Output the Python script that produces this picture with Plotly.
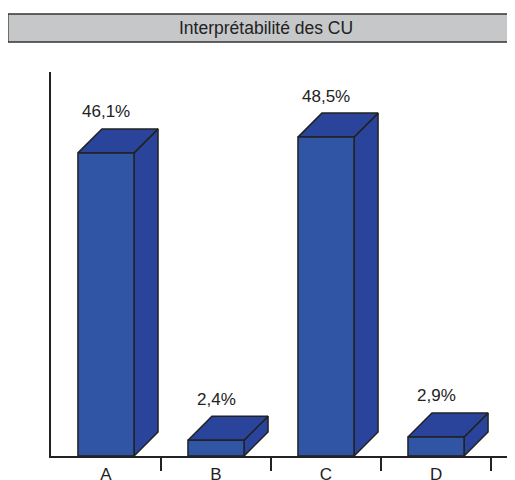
import plotly.graph_objects as go

categories = ["A", "B", "C", "D"]
values = [46.1, 2.4, 48.5, 2.9]
labels = ["46,1%", "2,4%", "48,5%", "2,9%"]
title_text = "Interprétabilité des CU"

FRONT = "#2F55A4"
TOP = "#2B449B"
SIDE = "#2B449B"
EDGE = "#222222"
FONT = "Liberation Sans, Arial, sans-serif"

half_w = 0.255   # half width of the front face (category units)
dx = 0.218       # depth offset, x
dy = 3.65        # depth offset, y (percent units)

fig = go.Figure()

for i, (cat, v) in enumerate(zip(categories, values)):
    x0, x1 = i - half_w, i + half_w
    faces = [
        # side
        ([x1, x1 + dx, x1 + dx, x1, x1], [0, dy, v + dy, v, 0], SIDE),
        # top
        ([x0, x1, x1 + dx, x0 + dx, x0], [v, v, v + dy, v + dy, v], TOP),
        # front
        ([x0, x1, x1, x0, x0], [0, 0, v, v, 0], FRONT),
    ]
    for xs, ys, col in faces:
        fig.add_trace(go.Scatter(
            x=xs, y=ys, mode="lines", fill="toself", fillcolor=col,
            line=dict(color=EDGE, width=1.5), hoverinfo="skip", showlegend=False
        ))
    fig.add_annotation(
        x=i, y=v, text=labels[i], showarrow=False, yshift=41,
        yanchor="middle", font=dict(size=17, color="#222", family=FONT)
    )

# title box (page has an 8px body margin, figure is 507x472)
fig.add_shape(
    type="rect", xref="paper", yref="paper",
    x0=-0.093, x1=1.05, y0=1.078, y1=1.151,
    fillcolor="#C6C7C9", line=dict(color="#333", width=1.5), layer="above"
)
fig.add_annotation(
    xref="paper", yref="paper", x=(266 - 51) / 464, y=(456 - 28) / 384,
    text=title_text, showarrow=False, yanchor="middle", xanchor="center",
    font=dict(size=17.5, color="#222", family=FONT)
)

fig.update_layout(
    width=507, height=472,
    margin=dict(l=43, r=0, t=64, b=24),
    paper_bgcolor="white", plot_bgcolor="white",
    font=dict(family=FONT, size=17, color="#222"),
    xaxis=dict(
        range=[-0.5, 3.718], tickvals=list(range(len(categories))),
        ticktext=categories, ticks="", showgrid=False, zeroline=False,
        showline=True, linecolor=EDGE, linewidth=1.5, ticklabelstandoff=2,
        minor=dict(tickvals=[0.5, 1.5, 2.5, 3.5], ticks="outside",
                   ticklen=13, tickwidth=1.5, tickcolor=EDGE, showgrid=False),
        fixedrange=True, automargin=False,
    ),
    yaxis=dict(
        range=[0, 58.4], showticklabels=False, ticks="", showgrid=False,
        zeroline=False, showline=True, linecolor=EDGE, linewidth=1.5,
        fixedrange=True, automargin=False,
    ),
)

fig.write_html("out.html")
